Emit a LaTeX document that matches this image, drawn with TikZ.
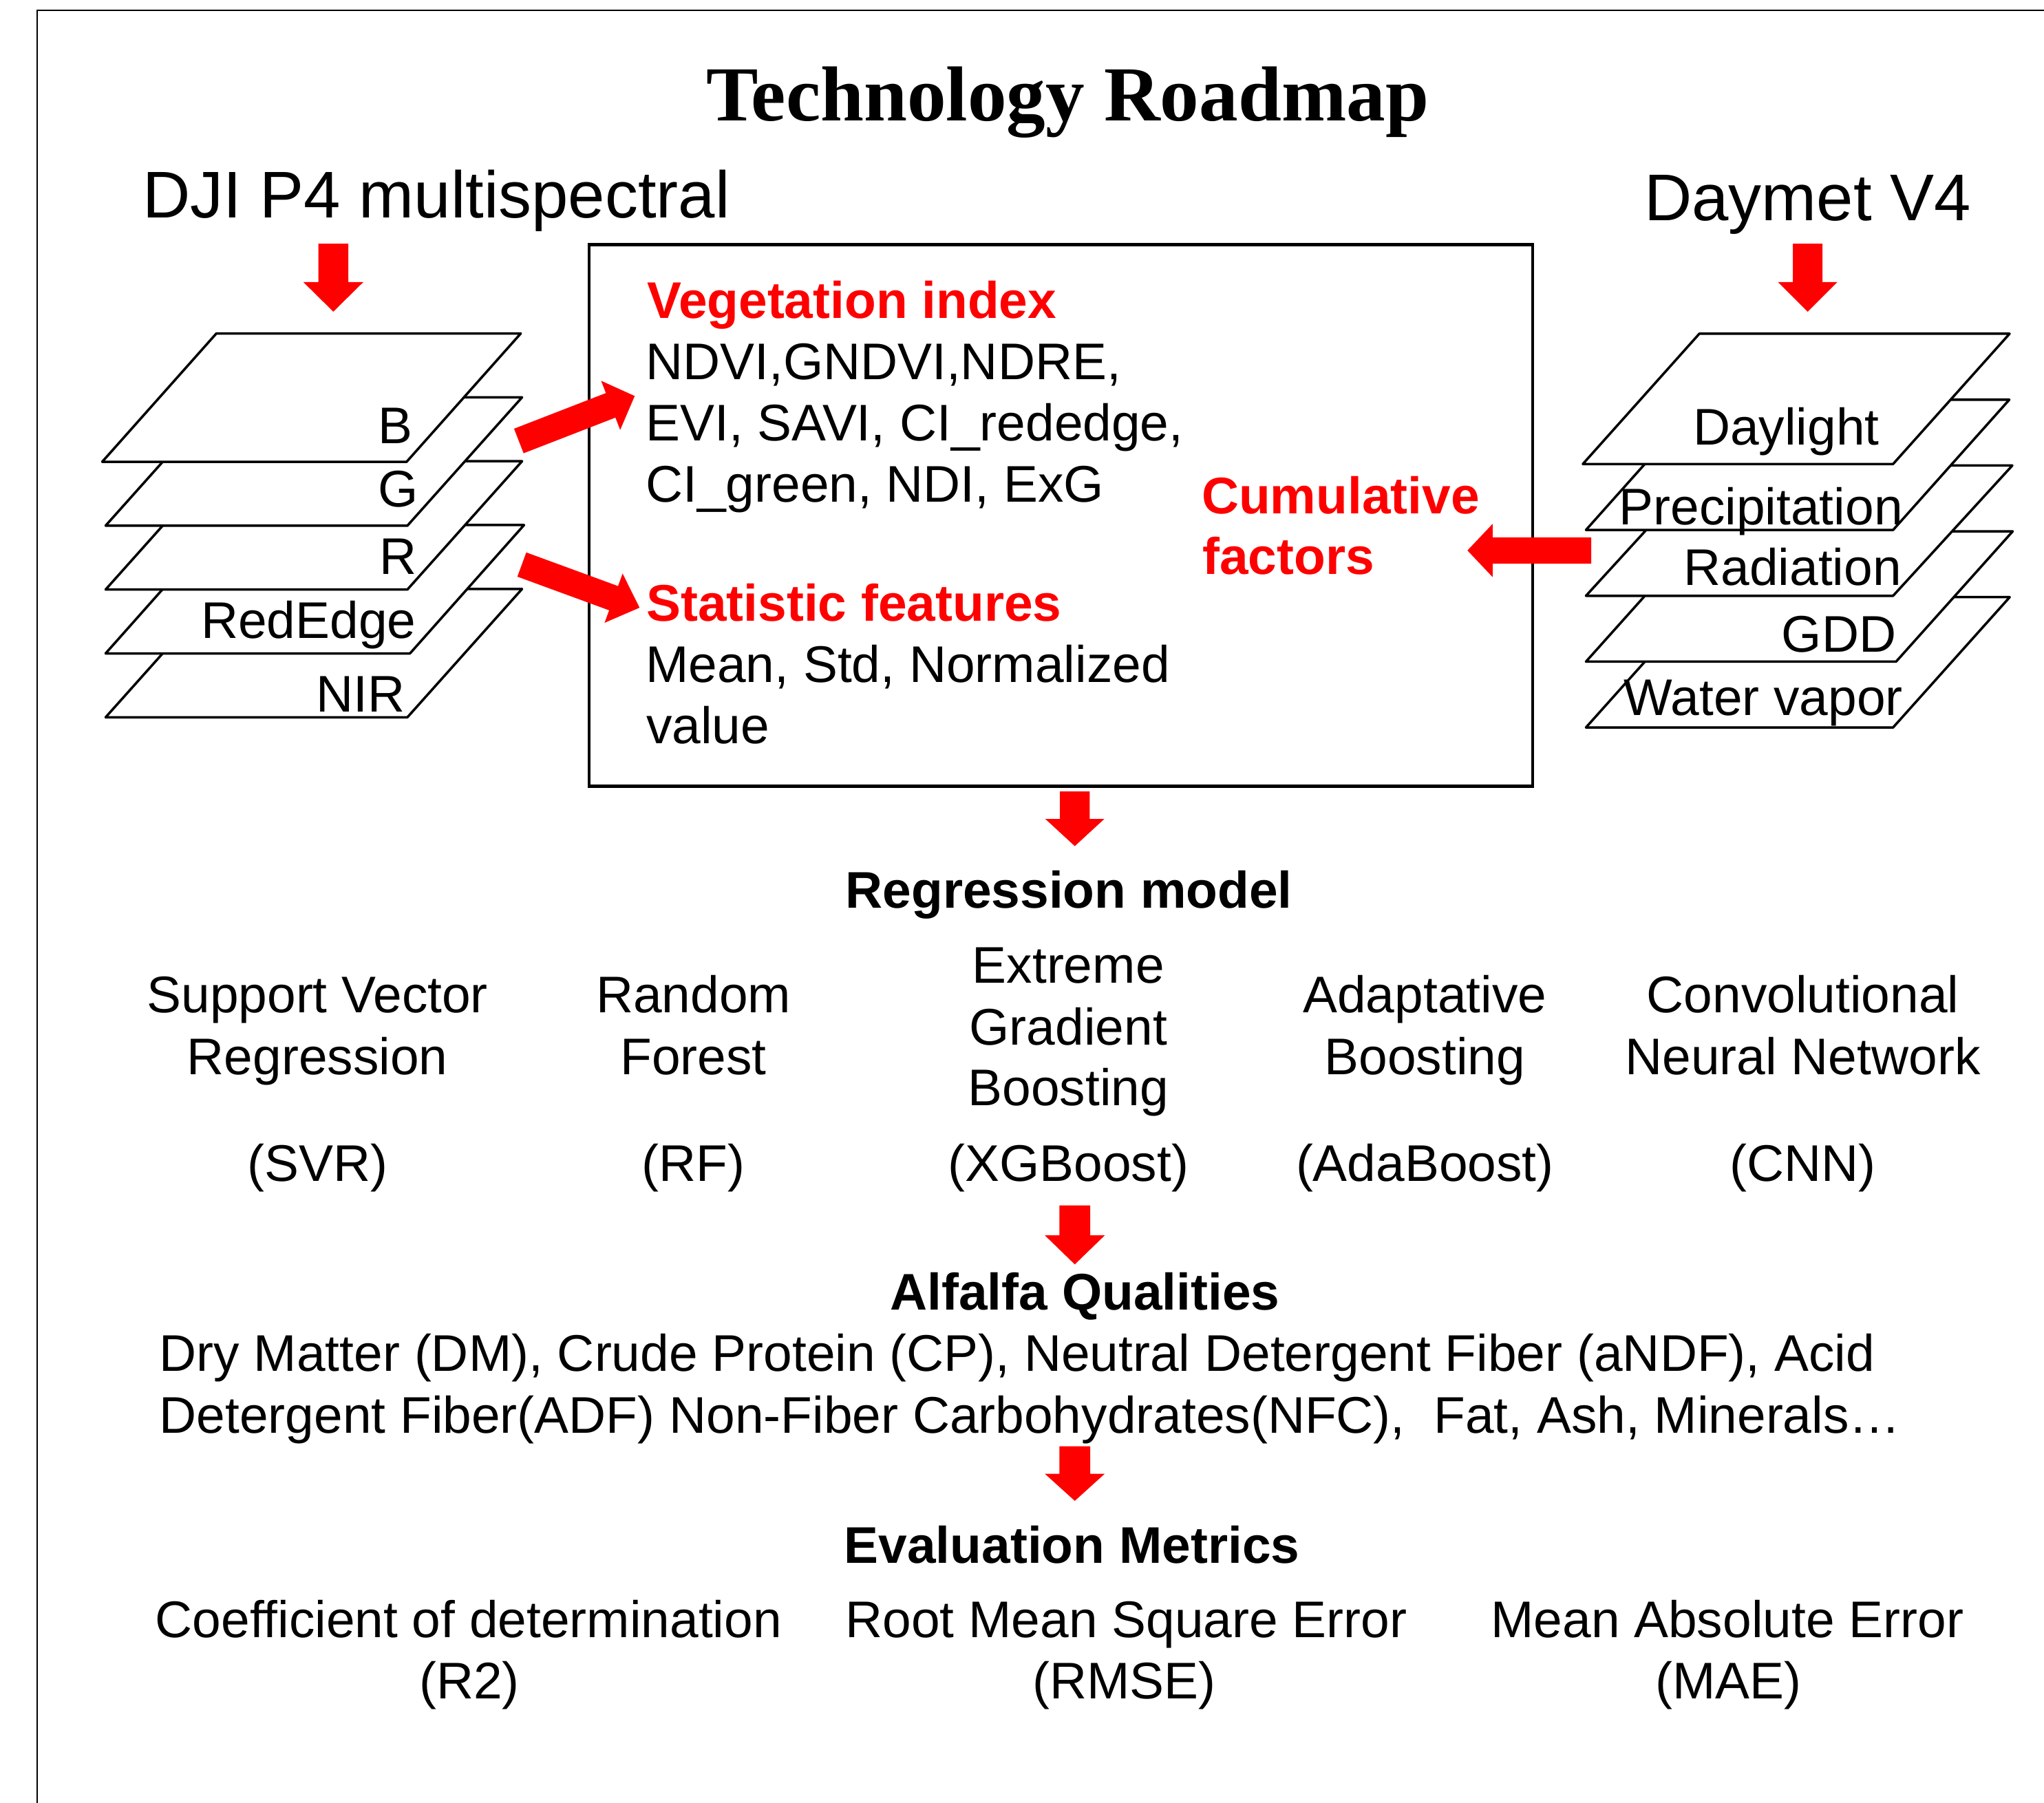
\documentclass[tikz,border=0pt]{standalone}
\usepackage{fontspec}
\setmainfont{Liberation Sans}
\newfontfamily\titlefont{Liberation Serif}
\usetikzlibrary{calc}

\definecolor{arrowred}{RGB}{255,0,0}

% one drawing unit
\newcommand\pxu{0.018941cm}
\newcommand\bodysize{\fontsize{21.3}{25.6}\selectfont}
\newcommand\headsize{\fontsize{27.3}{32.8}\selectfont}

% block arrow: tail, tip, shaft half-width, head half-width, head length
\newcommand\blockarrow[5]{%
  \coordinate (#1-#2-neck) at ($(#2)!#5*\pxu!(#1)$);
  \fill[arrowred]
    ($(#1)!#3*\pxu!90:(#2)$) -- ($(#1-#2-neck)!#3*\pxu!90:(#2)$)
    -- ($(#1-#2-neck)!#4*\pxu!90:(#2)$) -- (#2)
    -- ($(#1-#2-neck)!#4*\pxu!-90:(#2)$) -- ($(#1-#2-neck)!#3*\pxu!-90:(#2)$)
    -- ($(#1)!#3*\pxu!-90:(#2)$) -- cycle;}

% one band of a stack: bottom y, bottom-left x, bottom-right x, slant, height
\newcommand\band[5]{%
  \filldraw[layer] (#2,#1) -- (#3,#1) -- ({#3+#4},{#1-#5}) -- ({#2+#4},{#1-#5}) -- cycle;}

\begin{document}
\begin{tikzpicture}[x=0.018941cm, y=-0.018941cm,
  lbl/.style={inner sep=0pt, font=\bodysize},
  hd/.style={inner sep=0pt, font=\bodysize\bfseries},
  redhd/.style={hd, text=arrowred},
  layer/.style={draw, fill=white, line width=1pt, line join=round}]

\useasboundingbox (0,0) rectangle (1568,1383);

% outer frame (only its top and left sides fall on the page)
\draw[line width=0.6pt] (28.3,1383) -- (28.3,7.9) -- (1568,7.9);

% title and sources
\node[inner sep=0pt, anchor=base, font=\titlefont\bfseries\fontsize{32.2}{38}\selectfont]
  (title) at (819,92.4) {Technology Roadmap};
\node[inner sep=0pt, anchor=base west, font=\headsize] (dji) at (109,167.2) {DJI P4 multispectral};
\node[inner sep=0pt, anchor=base west, font=\headsize] (daymet) at (1261,169.3) {Daymet V4};

% multispectral band stack
\band{550.3}{81}{312.5}{88}{98.5}
\band{501.3}{81}{314.5}{87.5}{98.5}
\band{452.3}{81}{312.5}{88}{98.5}
\band{403.3}{81}{312.5}{88}{98.5}
\band{354.3}{78.4}{311.9}{87.6}{98.5}
\node[lbl, anchor=base east] (bandB) at (317,340) {B};
\node[lbl, anchor=base east] (bandG) at (321,389) {G};
\node[lbl, anchor=base east] (bandR) at (320,440.7) {R};
\node[lbl, anchor=base east] (bandRE) at (319.5,489.4) {RedEdge};
\node[lbl, anchor=base east] (bandNIR) at (311,546) {NIR};

% meteorological layer stack
\band{558.1}{1216.6}{1452.2}{89.5}{100}
\band{507.6}{1216.6}{1454.5}{89.5}{100}
\band{457.1}{1216.6}{1452.2}{91.5}{100}
\band{406.6}{1216.6}{1452.2}{89.2}{100}
\band{356}{1214.2}{1452.2}{89.4}{100}
\node[lbl, anchor=base east] (mDay) at (1442,341.4) {Daylight};
\node[lbl, anchor=base east] (mPre) at (1460,402.8) {Precipitation};
\node[lbl, anchor=base east] (mRad) at (1459,449) {Radiation};
\node[lbl, anchor=base east] (mGDD) at (1455,500) {GDD};
\node[lbl, anchor=base east] (mWV) at (1460,548.7) {Water vapor};

% feature box
\node[draw, line width=1.3pt, inner sep=0pt, anchor=north west,
  minimum width=13.708cm, minimum height=7.870cm] (featbox) at (450.6,186.4) {};
\node[redhd, anchor=base west] (vi) at (496,244.4) {Vegetation index};
\node[lbl, anchor=base west] (vi1) at (495,291.3) {NDVI,GNDVI,NDRE,};
\node[lbl, anchor=base west] (vi2) at (495,338.3) {EVI, SAVI, CI\_rededge,};
\node[lbl, anchor=base west] (vi3) at (495,385.2) {CI\_green, NDI, ExG};
\node[redhd, anchor=base west] (sf) at (495.5,476.3) {Statistic features};
\node[lbl, anchor=base west] (sf1) at (495,523.3) {Mean, Std, Normalized};
\node[lbl, anchor=base west] (sf2) at (495.5,570.2) {value};
\node[redhd, anchor=base west] (cf1) at (921.5,394.3) {Cumulative};
\node[redhd, anchor=base west] (cf2) at (922,440.4) {factors};

% regression models
\node[hd, anchor=base] (reg) at (820,696.5) {Regression model};
\node[lbl, anchor=base] (svr1) at (243.5,777) {Support Vector};
\node[lbl, anchor=base] (svr2) at (243.5,824.5) {Regression};
\node[lbl, anchor=base] (svr3) at (243.5,906) {(SVR)};
\node[lbl, anchor=base] (rf1) at (532,777) {Random};
\node[lbl, anchor=base] (rf2) at (532,824.5) {Forest};
\node[lbl, anchor=base] (rf3) at (532,906) {(RF)};
\node[lbl, anchor=base] (xg1) at (819.5,754) {Extreme};
\node[lbl, anchor=base] (xg2) at (819.5,801.7) {Gradient};
\node[lbl, anchor=base] (xg3) at (819.5,848.3) {Boosting};
\node[lbl, anchor=base] (xg4) at (819.5,906) {(XGBoost)};
\node[lbl, anchor=base] (ada1) at (1093,777) {Adaptative};
\node[lbl, anchor=base] (ada2) at (1093,824.5) {Boosting};
\node[lbl, anchor=base] (ada3) at (1093,906) {(AdaBoost)};
\node[lbl, anchor=base] (cnn1) at (1383,777) {Convolutional};
\node[lbl, anchor=base] (cnn2) at (1383,824.5) {Neural Network};
\node[lbl, anchor=base] (cnn3) at (1383,906) {(CNN)};

% alfalfa qualities
\node[hd, anchor=base] (alf) at (832.3,1005) {Alfalfa Qualities};
\node[lbl, anchor=base west] (alf1) at (122,1052) {Dry Matter (DM), Crude Protein (CP), Neutral Detergent Fiber (aNDF), Acid};
\node[lbl, anchor=base west] (alf2) at (122,1099.2) {Detergent Fiber(ADF) Non-Fiber Carbohydrates(NFC), \ Fat, Ash, Minerals…};

% evaluation metrics
\node[hd, anchor=base] (ev) at (822.3,1199) {Evaluation Metrics};
\node[lbl, anchor=base] (r2a) at (359.5,1256.2) {Coefficient of determination};
\node[lbl, anchor=base] (r2b) at (360,1303.2) {(R2)};
\node[lbl, anchor=base] (rmse1) at (864,1256.2) {Root Mean Square Error};
\node[lbl, anchor=base] (rmse2) at (862.5,1303.2) {(RMSE)};
\node[lbl, anchor=base] (mae1) at (1325,1256.2) {Mean Absolute Error};
\node[lbl, anchor=base] (mae2) at (1326,1303.2) {(MAE)};

% arrow ends
\coordinate (djiT) at (255.7,187);   \coordinate (djiH) at (255.7,239.1);
\coordinate (dayT) at (1386.7,187);  \coordinate (dayH) at (1386.7,239.1);
\coordinate (upT) at (398,338.3);    \coordinate (upH) at (486.9,303.8);
\coordinate (loT) at (400.3,433.1);  \coordinate (loH) at (490.6,466.2);
\coordinate (cfT) at (1220.7,422.3); \coordinate (cfH) at (1125.7,422.3);
\coordinate (boxT) at (824.5,607.2); \coordinate (boxH) at (824.5,649.1);
\coordinate (regT) at (824.5,924.7); \coordinate (regH) at (824.5,970);
\coordinate (alfT) at (824.5,1109.5);\coordinate (alfH) at (824.5,1151.4);

\blockarrow{djiT}{djiH}{11.5}{23}{22.7}
\blockarrow{dayT}{dayH}{11.3}{22.7}{22.7}
\blockarrow{upT}{upH}{10.1}{20.2}{19.8}
\blockarrow{loT}{loH}{9.9}{20.1}{21.2}
\blockarrow{cfT}{cfH}{10.1}{20.4}{19.3}
\blockarrow{boxT}{boxH}{11.4}{22.6}{20.8}
\blockarrow{regT}{regH}{11.8}{23}{22.3}
\blockarrow{alfT}{alfH}{11.8}{23}{20.8}

\end{tikzpicture}
\end{document}
